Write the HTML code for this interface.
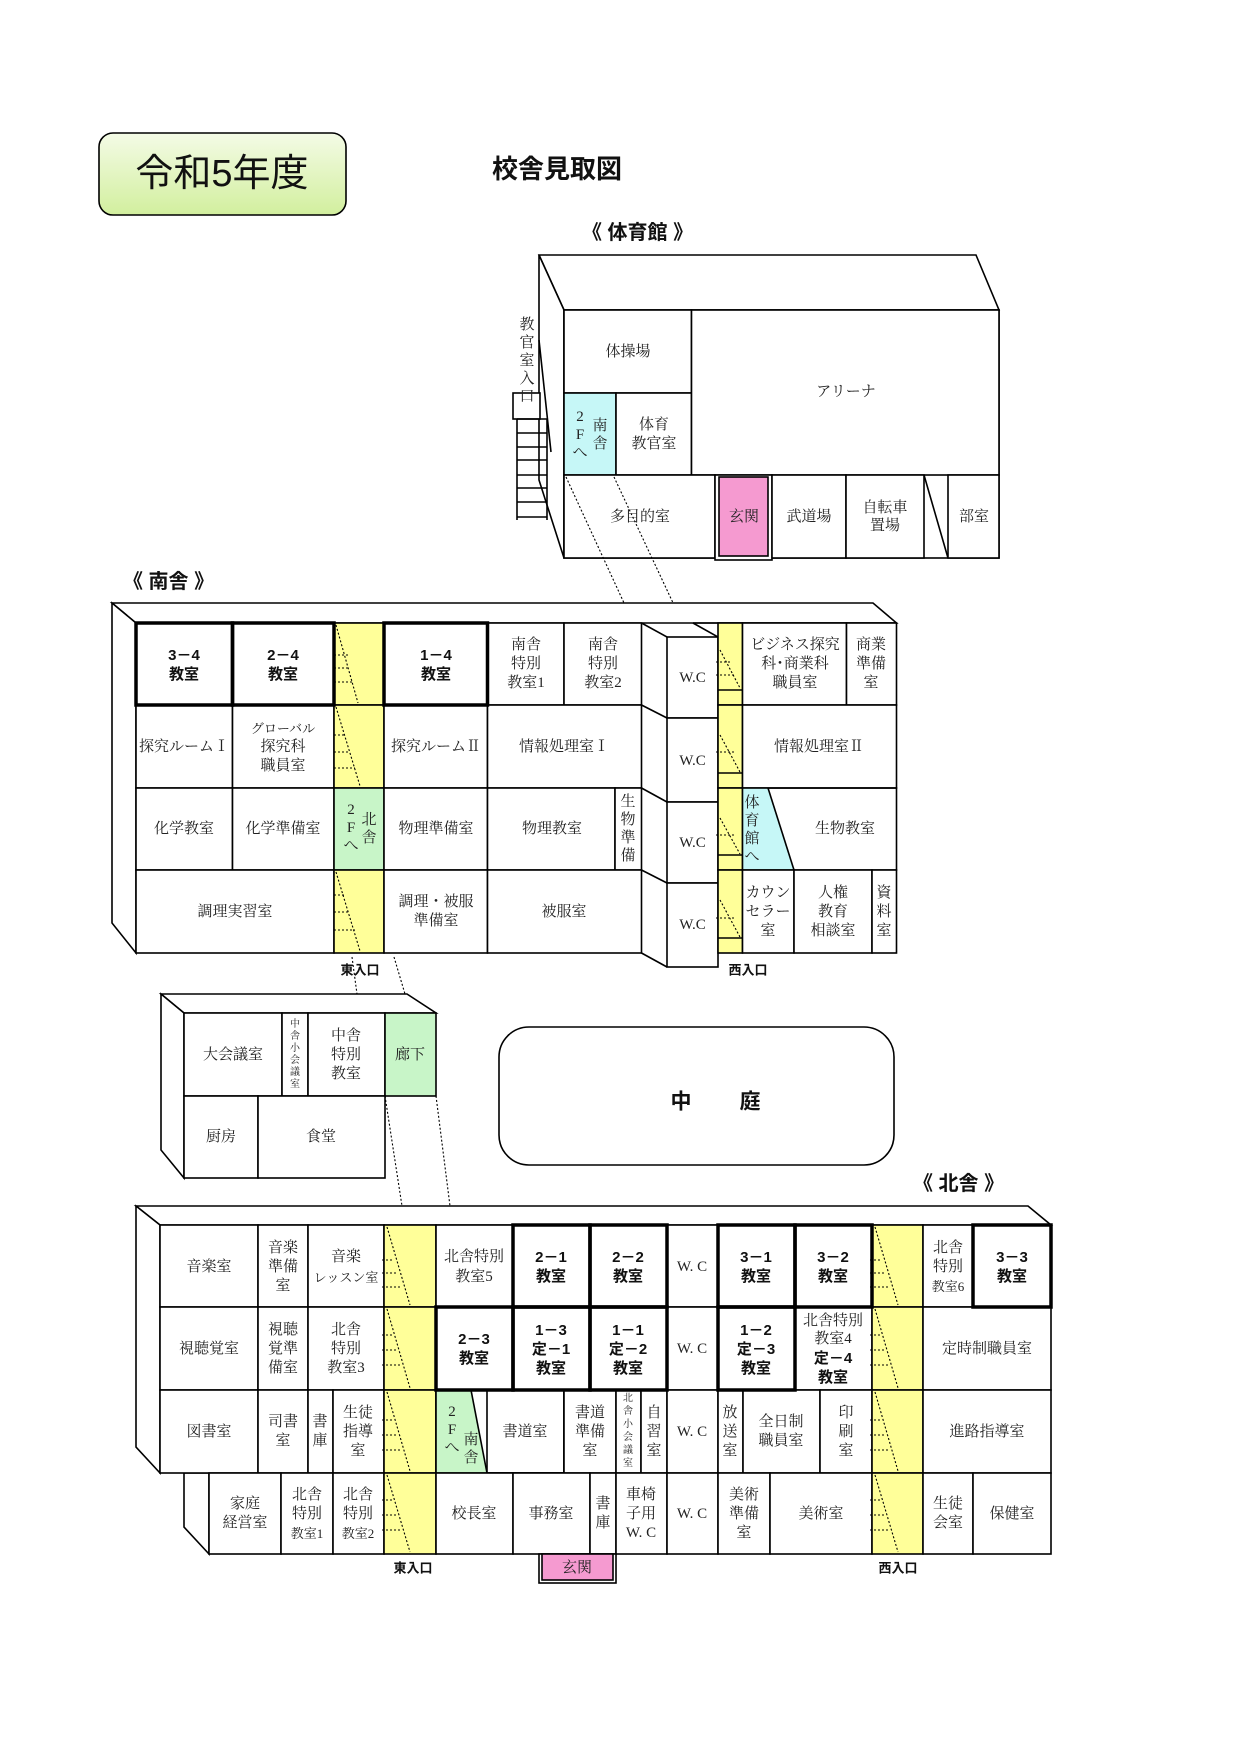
<!DOCTYPE html>
<html><head><meta charset="utf-8"><style>
html,body{margin:0;padding:0;background:#fff;}
svg{display:block;}
.t{font-family:"Liberation Serif","Noto Serif CJK SC",serif;font-size:15px;fill:#222;text-anchor:middle;dominant-baseline:central;}
.v{font-size:10px;}
.b{font-family:"Liberation Sans","Noto Sans CJK JP",sans-serif;font-weight:bold;font-size:15px;fill:#111;text-anchor:middle;dominant-baseline:central;}
.h{font-family:"Liberation Sans","Noto Sans CJK JP",sans-serif;font-weight:bold;fill:#111;dominant-baseline:central;}
rect,polygon,path,line{stroke:#000;stroke-width:1.6;}
.c{fill:#fff;}
.y{fill:#ffff99;}
.g{fill:#c8f5c8;}
.cy{fill:#c6f7f7;}
.th{fill:none;stroke-width:3.5;}
.d{stroke-dasharray:2 2;stroke-width:1.1;fill:none;}
</style></head><body>
<svg width="1240" height="1753" viewBox="0 0 1240 1753" xmlns="http://www.w3.org/2000/svg">
<defs><linearGradient id="gr" x1="0" y1="0" x2="0" y2="1"><stop offset="0" stop-color="#f4fbe6"/><stop offset="1" stop-color="#d2ef9e"/></linearGradient></defs>
<rect x="99" y="133" width="247" height="82" rx="14" fill="url(#gr)" stroke="#9cc96a" stroke-width="1.5"/>
<text class="h" x="222" y="174" font-size="38" text-anchor="middle" style="font-weight:normal">令和5年度</text>
<text class="h" x="557" y="169" font-size="26" text-anchor="middle">校舎見取図</text>
<text class="h" x="582" y="233" font-size="20">《 体育館 》</text>

<!-- GYM -->
<polygon class="c" points="539,255 976,255 999,310 564,310"/>
<polygon class="c" points="539,255 564,310 564,558 539,480"/>
<rect class="c" x="564" y="310" width="435" height="248"/>
<rect class="c" x="564" y="310" width="127.5" height="83"/>
<rect class="cy" x="564" y="393" width="52" height="82"/>
<rect class="c" x="616" y="393" width="75.5" height="82"/>
<rect class="c" x="691.5" y="310" width="307.5" height="165"/>
<rect class="c" x="564" y="475" width="151" height="83"/>
<rect x="715" y="475" width="57" height="85" fill="#fff"/>
<rect x="719" y="477" width="49" height="79" fill="#f59ad0"/>
<rect class="c" x="772" y="475" width="74" height="83"/>
<rect class="c" x="846" y="475" width="78" height="83"/>
<line x1="924" y1="475" x2="948" y2="558"/>
<rect class="c" x="948" y="475" width="51" height="83"/>
<rect class="c" x="513" y="393" width="27" height="26"/>
<line x1="517" y1="419" x2="517" y2="520"/><line x1="547" y1="419" x2="547" y2="520"/>
<line x1="517" y1="419" x2="547" y2="419"/><line x1="517" y1="433" x2="547" y2="433"/><line x1="517" y1="447" x2="547" y2="447"/><line x1="517" y1="460" x2="547" y2="460"/><line x1="517" y1="475" x2="547" y2="475"/><line x1="517" y1="488" x2="547" y2="488"/><line x1="517" y1="502" x2="547" y2="502"/><line x1="517" y1="517" x2="547" y2="517"/>
<line x1="539" y1="340" x2="551" y2="452"/>
<text class="t" x="527"><tspan x="527" y="325">教</tspan><tspan x="527" y="343">官</tspan><tspan x="527" y="361">室</tspan><tspan x="527" y="379">入</tspan><tspan x="527" y="397">口</tspan></text>
<text class="t" x="628" y="352">体操場</text>
<text class="t" x="846" y="392">アリーナ</text>
<text class="t"><tspan x="580" y="417">2</tspan><tspan x="580" y="435">F</tspan><tspan x="580" y="453">へ</tspan><tspan x="600" y="426">南</tspan><tspan x="600" y="444">舎</tspan></text>
<text class="t"><tspan x="654" y="425">体育</tspan><tspan x="654" y="444">教官室</tspan></text>
<text class="t" x="640" y="517">多目的室</text>
<text class="t" x="744" y="517">玄関</text>
<text class="t" x="809" y="517">武道場</text>
<text class="t"><tspan x="885" y="508">自転車</tspan><tspan x="885" y="526">置場</tspan></text>
<text class="t" x="974" y="517">部室</text>
<line class="d" x1="566" y1="477" x2="624" y2="603"/>
<line class="d" x1="614" y1="477" x2="674" y2="605"/>

<text class="h" x="123" y="582" font-size="20">《 南舎 》</text>

<!-- SOUTH -->
<polygon class="c" points="112,603 873,603 896.5,623 136,623"/>
<polygon class="c" points="112,603 136,623 136,953 112,923"/>
<g>
<rect class="c" x="136" y="623" width="96.5" height="82"/><rect class="c" x="232.5" y="623" width="101.5" height="82"/>
<rect class="y" x="334" y="623" width="50" height="82"/>
<rect class="c" x="384" y="623" width="103.5" height="82"/><rect class="c" x="487.5" y="623" width="76.5" height="82"/><rect class="c" x="564" y="623" width="77.5" height="82"/>
<rect class="c" x="136" y="705" width="96.5" height="83"/><rect class="c" x="232.5" y="705" width="101.5" height="83"/>
<rect class="y" x="334" y="705" width="50" height="83"/>
<rect class="c" x="384" y="705" width="103.5" height="83"/><rect class="c" x="487.5" y="705" width="154" height="83"/>
<rect class="c" x="136" y="788" width="96.5" height="82"/><rect class="c" x="232.5" y="788" width="101.5" height="82"/>
<rect class="g" x="334" y="788" width="50" height="82"/>
<rect class="c" x="384" y="788" width="103.5" height="82"/><rect class="c" x="487.5" y="788" width="127.5" height="82"/><rect class="c" x="615" y="788" width="26.5" height="82"/>
<rect class="c" x="136" y="870" width="198" height="83"/>
<rect class="y" x="334" y="870" width="50" height="83"/>
<rect class="c" x="384" y="870" width="103.5" height="83"/><rect class="c" x="487.5" y="870" width="154" height="83"/>
<rect class="th" x="136" y="623" width="96.5" height="82"/><rect class="th" x="232.5" y="623" width="101.5" height="82"/><rect class="th" x="384" y="623" width="103.5" height="82"/>
</g>
<path class="d" d="M336,625 L358,703 M336,707 L360,786 M336,872 L360,951 M334,655 H348 M334,668 H350 M334,682 H353 M334,735 H346 M334,752 H350 M334,768 H355 M334,895 H344 M334,912 H350 M334,930 H355"/>
<rect class="c" x="667" y="637" width="51" height="81"/><rect class="c" x="667" y="718" width="51" height="84"/><rect class="c" x="667" y="802" width="51" height="81"/><rect class="c" x="667" y="883" width="51" height="84"/>
<line x1="641.5" y1="623" x2="667" y2="637"/><line x1="641.5" y1="705" x2="667" y2="718"/><line x1="641.5" y1="788" x2="667" y2="802"/><line x1="641.5" y1="870" x2="667" y2="883"/><line x1="641.5" y1="953" x2="667" y2="967"/>
<line x1="693" y1="623" x2="718" y2="637"/><line x1="693" y1="623" x2="896.5" y2="623"/>
<text class="t"><tspan x="692.5" y="678">W.C</tspan><tspan x="692.5" y="761">W.C</tspan><tspan x="692.5" y="843">W.C</tspan><tspan x="692.5" y="925">W.C</tspan></text>
<rect class="y" x="718" y="623" width="24.5" height="82"/><rect class="y" x="718" y="705" width="24.5" height="83"/><rect class="y" x="718" y="788" width="24.5" height="82"/><rect class="y" x="718" y="870" width="24.5" height="83"/>
<line x1="718" y1="690" x2="742.5" y2="690"/><line x1="718" y1="773" x2="742.5" y2="773"/><line x1="718" y1="855" x2="742.5" y2="855"/><line x1="718" y1="938" x2="742.5" y2="938"/>
<path class="d" d="M720,650 L740,688 M720,735 L740,772 M720,818 L740,854 M720,900 L740,937 M716,662 H730 M716,675 H736 M716,752 H736 M716,835 H736 M716,918 H736"/>
<rect class="c" x="742.5" y="623" width="104" height="82"/><rect class="c" x="846.5" y="623" width="50" height="82"/>
<rect class="c" x="742.5" y="705" width="154" height="83"/>
<polygon class="cy" points="742.5,788 768,788 794,870 742.5,870" style="stroke:none"/>
<rect x="742.5" y="788" width="154" height="82" fill="none"/>
<line x1="768" y1="788" x2="794" y2="870"/>
<rect class="c" x="742.5" y="870" width="51.5" height="83"/><rect class="c" x="794" y="870" width="78" height="83"/><rect class="c" x="872" y="870" width="24.5" height="83"/>
<text class="b"><tspan x="184" y="655">3－4</tspan><tspan x="184" y="674">教室</tspan></text>
<text class="b"><tspan x="283" y="655">2－4</tspan><tspan x="283" y="674">教室</tspan></text>
<text class="b"><tspan x="436" y="655">1－4</tspan><tspan x="436" y="674">教室</tspan></text>
<text class="t"><tspan x="526" y="645">南舎</tspan><tspan x="526" y="664">特別</tspan><tspan x="526" y="683">教室1</tspan></text>
<text class="t"><tspan x="603" y="645">南舎</tspan><tspan x="603" y="664">特別</tspan><tspan x="603" y="683">教室2</tspan></text>
<text class="t" x="184" y="747">探究ルームⅠ</text>
<text class="t"><tspan x="283" y="728" font-size="13">グローバル</tspan><tspan x="283" y="747">探究科</tspan><tspan x="283" y="766">職員室</tspan></text>
<text class="t" x="436" y="747">探究ルームⅡ</text>
<text class="t" x="564" y="747">情報処理室Ⅰ</text>
<text class="t" x="184" y="829">化学教室</text>
<text class="t" x="283" y="829">化学準備室</text>
<text class="t"><tspan x="351" y="810">2</tspan><tspan x="351" y="828">F</tspan><tspan x="351" y="846">へ</tspan><tspan x="369" y="820">北</tspan><tspan x="369" y="838">舎</tspan></text>
<text class="t" x="436" y="829">物理準備室</text>
<text class="t" x="552" y="829">物理教室</text>
<text class="t"><tspan x="628" y="802">生</tspan><tspan x="628" y="820">物</tspan><tspan x="628" y="838">準</tspan><tspan x="628" y="856">備</tspan></text>
<text class="t" x="235" y="912">調理実習室</text>
<text class="t"><tspan x="436" y="902">調理・被服</tspan><tspan x="436" y="921">準備室</tspan></text>
<text class="t" x="564" y="912">被服室</text>
<text class="t"><tspan x="795" y="645">ビジネス探究</tspan><tspan x="795" y="664">科･商業科</tspan><tspan x="795" y="683">職員室</tspan></text>
<text class="t"><tspan x="871" y="645">商業</tspan><tspan x="871" y="664">準備</tspan><tspan x="871" y="683">室</tspan></text>
<text class="t" x="819" y="747">情報処理室Ⅱ</text>
<text class="t"><tspan x="752" y="803">体</tspan><tspan x="752" y="821">育</tspan><tspan x="752" y="839">館</tspan><tspan x="752" y="857">へ</tspan></text>
<text class="t" x="845" y="829">生物教室</text>
<text class="t"><tspan x="768" y="893">カウン</tspan><tspan x="768" y="912">セラー</tspan><tspan x="768" y="931">室</tspan></text>
<text class="t"><tspan x="833" y="893">人権</tspan><tspan x="833" y="912">教育</tspan><tspan x="833" y="931">相談室</tspan></text>
<text class="t"><tspan x="884" y="893">資</tspan><tspan x="884" y="912">料</tspan><tspan x="884" y="931">室</tspan></text>
<text class="h" x="360" y="970" font-size="13" text-anchor="middle">東入口</text>
<text class="h" x="748" y="970" font-size="13" text-anchor="middle">西入口</text>
<line class="d" x1="352" y1="957" x2="357" y2="994"/><line class="d" x1="394" y1="957" x2="405" y2="994"/>

<!-- MIDDLE -->
<polygon class="c" points="161,994 407,994 436,1013 184,1013"/>
<polygon class="c" points="161,994 184,1013 184,1178 161,1150"/>
<rect class="c" x="184" y="1013" width="98" height="83"/><rect class="c" x="282" y="1013" width="26" height="83"/><rect class="c" x="308" y="1013" width="77" height="83"/>
<rect class="g" x="385" y="1013" width="51" height="83"/>
<rect class="c" x="184" y="1096" width="74" height="82"/><rect class="c" x="258" y="1096" width="127" height="82"/>
<text class="t" x="233" y="1055">大会議室</text>
<text class="t v"><tspan x="295" y="1024">中</tspan><tspan x="295" y="1036">舎</tspan><tspan x="295" y="1048">小</tspan><tspan x="295" y="1060">会</tspan><tspan x="295" y="1072">議</tspan><tspan x="295" y="1084">室</tspan></text>
<text class="t"><tspan x="346" y="1036">中舎</tspan><tspan x="346" y="1055">特別</tspan><tspan x="346" y="1074">教室</tspan></text>
<text class="t" x="410" y="1055">廊下</text>
<text class="t" x="221" y="1137">厨房</text>
<text class="t" x="321" y="1137">食堂</text>
<line class="d" x1="385" y1="1096" x2="402" y2="1206"/><line class="d" x1="436" y1="1096" x2="450" y2="1206"/>
<rect x="499" y="1027" width="395" height="138" rx="30" fill="#fff"/>
<text class="h" x="681" y="1102" font-size="21" text-anchor="middle">中</text>
<text class="h" x="750" y="1102" font-size="21" text-anchor="middle">庭</text>
<text class="h" x="913" y="1184" font-size="20">《 北舎 》</text>

<!-- NORTH -->
<polygon class="c" points="136,1206 1028,1206 1051,1225 160,1225"/>
<polygon class="c" points="136,1206 160,1225 160,1473 136,1447"/>
<polygon class="c" points="184,1473 209,1473 209,1554 184,1527"/>
<g>
<rect class="c" x="160" y="1225" width="98" height="82"/><rect class="c" x="258" y="1225" width="50" height="82"/><rect class="c" x="308" y="1225" width="76" height="82"/>
<rect class="y" x="384" y="1225" width="52" height="82"/>
<rect class="c" x="436" y="1225" width="77" height="82"/><rect class="c" x="513" y="1225" width="77" height="82"/><rect class="c" x="590" y="1225" width="77" height="82"/>
<rect class="c" x="667" y="1225" width="51" height="82"/><rect class="c" x="718" y="1225" width="77" height="82"/><rect class="c" x="795" y="1225" width="77" height="82"/>
<rect class="y" x="872" y="1225" width="51" height="82"/>
<rect class="c" x="923" y="1225" width="50" height="82"/><rect class="c" x="973" y="1225" width="78" height="82"/>
<rect class="c" x="160" y="1307" width="98" height="83"/><rect class="c" x="258" y="1307" width="50" height="83"/><rect class="c" x="308" y="1307" width="76" height="83"/>
<rect class="y" x="384" y="1307" width="52" height="83"/>
<rect class="c" x="436" y="1307" width="77" height="83"/><rect class="c" x="513" y="1307" width="77" height="83"/><rect class="c" x="590" y="1307" width="77" height="83"/>
<rect class="c" x="667" y="1307" width="51" height="83"/><rect class="c" x="718" y="1307" width="77" height="83"/><rect class="c" x="795" y="1307" width="77" height="83"/>
<rect class="y" x="872" y="1307" width="51" height="83"/>
<rect class="c" x="923" y="1307" width="128" height="83"/>
<rect class="c" x="160" y="1390" width="98" height="83"/><rect class="c" x="258" y="1390" width="50" height="83"/><rect class="c" x="308" y="1390" width="25" height="83"/><rect class="c" x="333" y="1390" width="51" height="83"/>
<rect class="y" x="384" y="1390" width="52" height="83"/>
<rect class="c" x="436" y="1390" width="128" height="83"/>
<polygon class="g" points="436,1390 471,1390 487,1473 436,1473" style="stroke:none"/>
<line x1="471" y1="1390" x2="487" y2="1473"/>
<rect x="487" y="1390" width="77" height="83" style="fill:none"/>
<rect x="436" y="1390" width="128" height="83" style="fill:none"/>
<rect class="c" x="564" y="1390" width="52" height="83"/><rect class="c" x="616" y="1390" width="25" height="83"/><rect class="c" x="641" y="1390" width="26" height="83"/>
<rect class="c" x="667" y="1390" width="51" height="83"/><rect class="c" x="718" y="1390" width="25" height="83"/><rect class="c" x="743" y="1390" width="77" height="83"/><rect class="c" x="820" y="1390" width="52" height="83"/>
<rect class="y" x="872" y="1390" width="51" height="83"/>
<rect class="c" x="923" y="1390" width="128" height="83"/>
<rect class="c" x="209" y="1473" width="72" height="81"/><rect class="c" x="281" y="1473" width="52" height="81"/><rect class="c" x="333" y="1473" width="51" height="81"/>
<rect class="y" x="384" y="1473" width="52" height="81"/>
<rect class="c" x="436" y="1473" width="77" height="81"/><rect class="c" x="513" y="1473" width="77" height="81"/><rect class="c" x="590" y="1473" width="26" height="81"/><rect class="c" x="616" y="1473" width="51" height="81"/>
<rect class="c" x="667" y="1473" width="51" height="81"/><rect class="c" x="718" y="1473" width="52" height="81"/><rect class="c" x="770" y="1473" width="102" height="81"/>
<rect class="y" x="872" y="1473" width="51" height="81"/>
<rect class="c" x="923" y="1473" width="50" height="81"/><rect class="c" x="973" y="1473" width="78" height="81"/>
<rect class="th" x="513" y="1225" width="77" height="82"/><rect class="th" x="590" y="1225" width="77" height="82"/>
<rect class="th" x="718" y="1225" width="77" height="82"/><rect class="th" x="795" y="1225" width="77" height="82"/>
<rect class="th" x="973" y="1225" width="78" height="82"/>
<rect class="th" x="436" y="1307" width="77" height="83"/><rect class="th" x="513" y="1307" width="77" height="83"/><rect class="th" x="590" y="1307" width="77" height="83"/>
<rect class="th" x="718" y="1307" width="77" height="83"/>
</g>
<path class="d" d="M387,1227 L410,1305 M387,1309 L410,1388 M387,1392 L410,1471 M387,1475 L410,1552 M875,1227 L898,1305 M875,1309 L898,1388 M875,1392 L898,1471 M875,1475 L898,1552
M382,1260 H394 M382,1273 H398 M382,1287 H402 M382,1335 H394 M382,1350 H398 M382,1365 H402 M382,1420 H394 M382,1435 H398 M382,1450 H402 M382,1500 H394 M382,1515 H398 M382,1530 H402
M870,1260 H882 M870,1273 H886 M870,1287 H890 M870,1335 H882 M870,1350 H886 M870,1365 H890 M870,1420 H882 M870,1435 H886 M870,1450 H890 M870,1500 H882 M870,1515 H886 M870,1530 H890"/>
<text class="t" x="209" y="1267">音楽室</text>
<text class="t"><tspan x="283" y="1248">音楽</tspan><tspan x="283" y="1267">準備</tspan><tspan x="283" y="1286">室</tspan></text>
<text class="t"><tspan x="346" y="1257">音楽</tspan><tspan x="346" y="1277" font-size="13">レッスン室</tspan></text>
<text class="t"><tspan x="474" y="1257">北舎特別</tspan><tspan x="474" y="1277">教室5</tspan></text>
<text class="b"><tspan x="551" y="1257">2－1</tspan><tspan x="551" y="1276">教室</tspan></text>
<text class="b"><tspan x="628" y="1257">2－2</tspan><tspan x="628" y="1276">教室</tspan></text>
<text class="t" x="692" y="1267">W. C</text>
<text class="b"><tspan x="756" y="1257">3－1</tspan><tspan x="756" y="1276">教室</tspan></text>
<text class="b"><tspan x="833" y="1257">3－2</tspan><tspan x="833" y="1276">教室</tspan></text>
<text class="t"><tspan x="948" y="1248">北舎</tspan><tspan x="948" y="1267">特別</tspan><tspan x="948" y="1286" font-size="13">教室6</tspan></text>
<text class="b"><tspan x="1012" y="1257">3－3</tspan><tspan x="1012" y="1276">教室</tspan></text>
<text class="t" x="209" y="1349">視聴覚室</text>
<text class="t"><tspan x="283" y="1330">視聴</tspan><tspan x="283" y="1349">覚準</tspan><tspan x="283" y="1368">備室</tspan></text>
<text class="t"><tspan x="346" y="1330">北舎</tspan><tspan x="346" y="1349">特別</tspan><tspan x="346" y="1368">教室3</tspan></text>
<text class="b"><tspan x="474" y="1339">2－3</tspan><tspan x="474" y="1358">教室</tspan></text>
<text class="b"><tspan x="551" y="1330">1－3</tspan><tspan x="551" y="1349">定－1</tspan><tspan x="551" y="1368">教室</tspan></text>
<text class="b"><tspan x="628" y="1330">1－1</tspan><tspan x="628" y="1349">定－2</tspan><tspan x="628" y="1368">教室</tspan></text>
<text class="t" x="692" y="1349">W. C</text>
<text class="b"><tspan x="756" y="1330">1－2</tspan><tspan x="756" y="1349">定－3</tspan><tspan x="756" y="1368">教室</tspan></text>
<text class="t"><tspan x="833" y="1321">北舎特別</tspan><tspan x="833" y="1339">教室4</tspan></text>
<text class="b"><tspan x="833" y="1358">定－4</tspan><tspan x="833" y="1377">教室</tspan></text>
<text class="t" x="987" y="1349">定時制職員室</text>
<text class="t" x="209" y="1432">図書室</text>
<text class="t"><tspan x="283" y="1422">司書</tspan><tspan x="283" y="1441">室</tspan></text>
<text class="t"><tspan x="320" y="1422">書</tspan><tspan x="320" y="1441">庫</tspan></text>
<text class="t"><tspan x="358" y="1413">生徒</tspan><tspan x="358" y="1432">指導</tspan><tspan x="358" y="1451">室</tspan></text>
<text class="t"><tspan x="452" y="1412">2</tspan><tspan x="452" y="1430">F</tspan><tspan x="452" y="1448">へ</tspan><tspan x="471" y="1440">南</tspan><tspan x="471" y="1458">舎</tspan></text>
<text class="t" x="525" y="1432">書道室</text>
<text class="t"><tspan x="590" y="1413">書道</tspan><tspan x="590" y="1432">準備</tspan><tspan x="590" y="1451">室</tspan></text>
<text class="t v"><tspan x="628" y="1398">北</tspan><tspan x="628" y="1411">舎</tspan><tspan x="628" y="1424">小</tspan><tspan x="628" y="1437">会</tspan><tspan x="628" y="1450">議</tspan><tspan x="628" y="1463">室</tspan></text>
<text class="t"><tspan x="654" y="1413">自</tspan><tspan x="654" y="1432">習</tspan><tspan x="654" y="1451">室</tspan></text>
<text class="t" x="692" y="1432">W. C</text>
<text class="t"><tspan x="730" y="1413">放</tspan><tspan x="730" y="1432">送</tspan><tspan x="730" y="1451">室</tspan></text>
<text class="t"><tspan x="781" y="1422">全日制</tspan><tspan x="781" y="1441">職員室</tspan></text>
<text class="t"><tspan x="846" y="1413">印</tspan><tspan x="846" y="1432">刷</tspan><tspan x="846" y="1451">室</tspan></text>
<text class="t" x="987" y="1432">進路指導室</text>
<text class="t"><tspan x="245" y="1504">家庭</tspan><tspan x="245" y="1523">経営室</tspan></text>
<text class="t"><tspan x="307" y="1495">北舎</tspan><tspan x="307" y="1514">特別</tspan><tspan x="307" y="1533" font-size="13">教室1</tspan></text>
<text class="t"><tspan x="358" y="1495">北舎</tspan><tspan x="358" y="1514">特別</tspan><tspan x="358" y="1533" font-size="13">教室2</tspan></text>
<text class="t" x="474" y="1514">校長室</text>
<text class="t" x="551" y="1514">事務室</text>
<text class="t"><tspan x="603" y="1504">書</tspan><tspan x="603" y="1523">庫</tspan></text>
<text class="t"><tspan x="641" y="1495">車椅</tspan><tspan x="641" y="1514">子用</tspan><tspan x="641" y="1533">W. C</tspan></text>
<text class="t" x="692" y="1514">W. C</text>
<text class="t"><tspan x="744" y="1495">美術</tspan><tspan x="744" y="1514">準備</tspan><tspan x="744" y="1533">室</tspan></text>
<text class="t" x="821" y="1514">美術室</text>
<text class="t"><tspan x="948" y="1504">生徒</tspan><tspan x="948" y="1523">会室</tspan></text>
<text class="t" x="1012" y="1514">保健室</text>
<rect x="539" y="1554" width="77" height="29" fill="#fff"/>
<rect x="542" y="1554" width="71" height="26" fill="#f59ad0"/>
<text class="t" x="577" y="1568">玄関</text>
<text class="h" x="413" y="1568" font-size="13" text-anchor="middle">東入口</text>
<text class="h" x="898" y="1568" font-size="13" text-anchor="middle">西入口</text>
</svg>
</body></html>
